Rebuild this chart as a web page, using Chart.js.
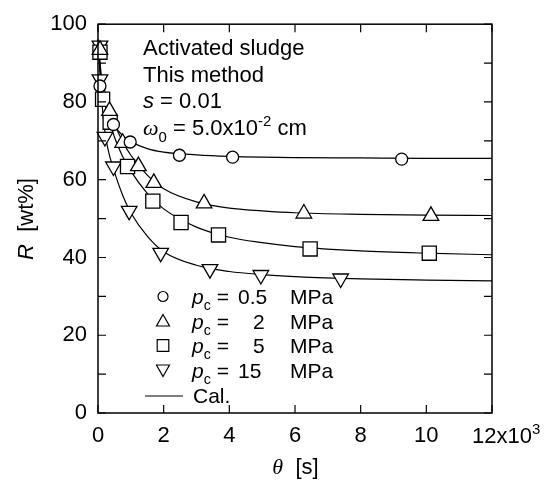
<!DOCTYPE html>
<html>
<head>
<meta charset="utf-8">
<script src="https://cdn.jsdelivr.net/npm/chart.js@4.4.0/dist/chart.umd.min.js"></script>
<style>
  html, body { margin: 0; padding: 0; background: #fff; }
  #wrap { width: 553px; height: 483px; }
</style>
</head>
<body>
<div id="wrap"><canvas id="myChart" width="553" height="483"></canvas></div>
<script>
// measured points, theta in 10^3 s, R in wt%
const theta05 = [0.06, 0.47, 0.98, 2.48, 4.10, 9.25];
const r05 = [84.1, 74.2, 69.7, 66.3, 65.8, 65.3];
const theta2 = [0.06, 0.35, 0.75, 1.23, 1.70, 3.23, 6.27, 10.14];
const r2 = [93.4, 77.7, 69.5, 63.5, 59.2, 53.9, 51.3, 50.7];
const theta5 = [0.06, 0.14, 0.37, 0.90, 1.67, 2.53, 3.67, 6.46, 10.09];
const r5 = [92.8, 80.7, 74.8, 63.4, 54.5, 49.0, 45.8, 42.2, 41.1];
const theta15 = [0.06, 0.06, 0.21, 0.47, 0.95, 1.91, 3.41, 4.96, 7.39];
const r15 = [94.5, 85.8, 71.0, 63.4, 52.0, 41.2, 37.0, 35.5, 34.6];

// calculated curves
const thetaCal = [0, 0.1, 0.2, 0.3, 0.5, 0.75, 1, 1.5, 2, 3, 4, 5, 6, 8, 10, 12];
const cal05 = [96, 85, 80, 77.5, 74, 71.3, 69.8, 68, 67.1, 66.4, 66, 65.8, 65.7, 65.6, 65.5, 65.5];
const cal2 = [96, 87, 83, 79.5, 74.5, 69.8, 66.3, 61.2, 57.7, 54.3, 52.7, 52, 51.5, 51.1, 50.9, 50.8];
const cal5 = [96, 85, 80, 76.5, 71, 66, 62.2, 56.5, 52.5, 47.8, 45.2, 43.8, 42.8, 41.7, 41.1, 40.7];
const cal15 = [96, 82, 73, 68, 62, 56, 51.5, 45.5, 41.5, 38, 36.4, 35.6, 35.1, 34.5, 34.2, 34];

const xTicks = [0, 2, 4, 6, 8, 10, 12];
const yTicks = [0, 10, 20, 30, 40, 50, 60, 70, 80, 90, 100];

const SANS = "'Liberation Sans', Arial, sans-serif";
const SERIF = "'Liberation Serif', 'Times New Roman', serif";

function pts(xs, ys) {
    return xs.map((x, i) => ({ x: x, y: ys[i] }));
}

function calLine(ys) {
    return {
        data: pts(thetaCal, ys),
        showLine: true,
        borderColor: '#000',
        borderWidth: 1.2,
        pointRadius: 0,
        cubicInterpolationMode: 'monotone',
        order: 2,
        clip: false
    };
}

function marks(xs, ys, style, radius, rotation) {
    return {
        data: pts(xs, ys),
        showLine: false,
        pointStyle: style,
        pointRadius: radius,
        pointRotation: rotation || 0,
        pointBackgroundColor: '#fff',
        pointBorderColor: '#000',
        pointBorderWidth: 1.3,
        order: 1,
        clip: false
    };
}

// writes a run of text pieces (italic / sub / sup) from x, returns the end x
function drawRich(ctx, x, y, parts, size, measureOnly) {
    parts.forEach(p => {
        let s = size, dy = 0;
        if (p.sub) { s = size * 0.68; dy = size * 0.3; }
        if (p.sup) { s = size * 0.68; dy = -size * 0.42; }
        ctx.font = (p.italic ? 'italic ' : '') + s + 'px ' + (p.serif ? SERIF : SANS);
        if (!measureOnly) ctx.fillText(p.t, x, y + dy);
        x += ctx.measureText(p.t).width;
    });
    return x;
}

function legendMark(ctx, style, x, y) {
    ctx.beginPath();
    if (style === 'circle') {
        ctx.arc(x, y, 5, 0, Math.PI * 2);
    } else if (style === 'rect') {
        ctx.rect(x - 5.8, y - 5.8, 11.6, 11.6);
    } else if (style === 'up') {
        ctx.moveTo(x, y - 6.5); ctx.lineTo(x + 6.5, y + 5); ctx.lineTo(x - 6.5, y + 5); ctx.closePath();
    } else {
        ctx.moveTo(x, y + 6.5); ctx.lineTo(x + 6.5, y - 5); ctx.lineTo(x - 6.5, y - 5); ctx.closePath();
    }
    ctx.fillStyle = '#fff';
    ctx.fill();
    ctx.stroke();
}

const framePlugin = {
    id: 'frame',
    afterDraw(chart) {
        const ctx = chart.ctx;
        const a = chart.chartArea;
        const xs = chart.scales.x, ys = chart.scales.y;
        ctx.save();
        ctx.strokeStyle = '#000';
        ctx.fillStyle = '#000';
        ctx.lineWidth = 1.5;
        ctx.strokeRect(a.left, a.top, a.right - a.left, a.bottom - a.top);

        // inward ticks on all four sides
        ctx.lineWidth = 1.2;
        ctx.beginPath();
        xTicks.forEach(v => {
            const px = xs.getPixelForValue(v);
            ctx.moveTo(px, a.bottom); ctx.lineTo(px, a.bottom - 8);
            ctx.moveTo(px, a.top); ctx.lineTo(px, a.top + 8);
        });
        yTicks.forEach(v => {
            const py = ys.getPixelForValue(v);
            ctx.moveTo(a.left, py); ctx.lineTo(a.left + 8, py);
            ctx.moveTo(a.right, py); ctx.lineTo(a.right - 8, py);
        });
        ctx.stroke();

        ctx.textAlign = 'left';
        ctx.textBaseline = 'alphabetic';

        // last x tick label with its exponent
        const x12 = xs.getPixelForValue(12) - 20;
        drawRich(ctx, x12, 443, [{ t: '12x10' }, { t: '3', sup: true }], 22);

        // notes at upper left
        drawRich(ctx, 143, 55, [{ t: 'Activated sludge' }], 22);
        drawRich(ctx, 143, 81.5, [{ t: 'This method' }], 22);
        drawRich(ctx, 143, 108, [{ t: 's', italic: true }, { t: ' = 0.01' }], 22);
        drawRich(ctx, 143, 135, [{ t: '\u03c9', italic: true, serif: true }, { t: '0', sub: true },
            { t: ' = 5.0x10' }, { t: '-2', sup: true }, { t: ' cm' }], 22);

        // legend
        const rows = [
            { mark: 'circle', val: '0.5', vx: 238 },
            { mark: 'up', val: '2', vx: 253 },
            { mark: 'rect', val: '5', vx: 253 },
            { mark: 'down', val: '15', vx: 238 }
        ];
        ctx.lineWidth = 1.2;
        rows.forEach((r, i) => {
            const base = 304 + i * 24.5;
            legendMark(ctx, r.mark, 163, base - 7.5);
            ctx.fillStyle = '#000';
            drawRich(ctx, 192, base, [{ t: 'p', italic: true }, { t: 'c', sub: true }, { t: ' =' }], 21);
            drawRich(ctx, r.vx, base, [{ t: r.val }], 21);
            drawRich(ctx, 290, base, [{ t: 'MPa' }], 21);
        });
        ctx.beginPath();
        ctx.moveTo(145, 396); ctx.lineTo(183, 396);
        ctx.stroke();
        drawRich(ctx, 193, 402.5, [{ t: 'Cal.' }], 21);

        // axis titles
        const xt = [{ t: '\u03b8', italic: true, serif: true }, { t: '  [s]' }];
        const xw = drawRich(ctx, 0, 0, xt, 22, true);
        drawRich(ctx, 295.5 - xw / 2, 474, xt, 22);

        const yt = [{ t: 'R', italic: true }, { t: '  [wt%]' }];
        const yw = drawRich(ctx, 0, 0, yt, 22, true);
        ctx.translate(33, 219);
        ctx.rotate(-Math.PI / 2);
        drawRich(ctx, -yw / 2, 0, yt, 22);
        ctx.restore();
    }
};

const tickFont = { family: SANS, size: 22 };

const ctx = document.getElementById('myChart').getContext('2d');
const myChart = new Chart(ctx, {
    type: 'scatter',
    data: {
        datasets: [
            calLine(cal05),
            calLine(cal2),
            calLine(cal5),
            calLine(cal15),
            marks(theta05, r05, 'circle', 6),
            marks(theta2, r2, 'triangle', 9),
            marks(theta5, r5, 'rect', 10),
            marks(theta15, r15, 'triangle', 9, 180)
        ]
    },
    options: {
        responsive: false,
        animation: false,
        events: [],
        layout: { padding: { top: 19, right: 61, left: 0, bottom: 0 } },
        plugins: {
            legend: { display: false },
            tooltip: { enabled: false }
        },
        scales: {
            x: {
                type: 'linear',
                min: 0,
                max: 12,
                grid: { display: false, drawTicks: false },
                border: { display: false },
                ticks: {
                    stepSize: 2,
                    font: tickFont,
                    color: '#000',
                    padding: 10,
                    maxRotation: 0,
                    autoSkip: false,
                    callback: v => (v === 12 ? '' : v)
                },
                afterFit: s => { s.height = 70; }
            },
            y: {
                min: 0,
                max: 100,
                grid: { display: false, drawTicks: false },
                border: { display: false },
                ticks: {
                    stepSize: 20,
                    font: tickFont,
                    color: '#000',
                    padding: 11
                },
                afterFit: s => { s.width = 98; }
            }
        }
    },
    plugins: [framePlugin]
});
</script>
</body>
</html>
